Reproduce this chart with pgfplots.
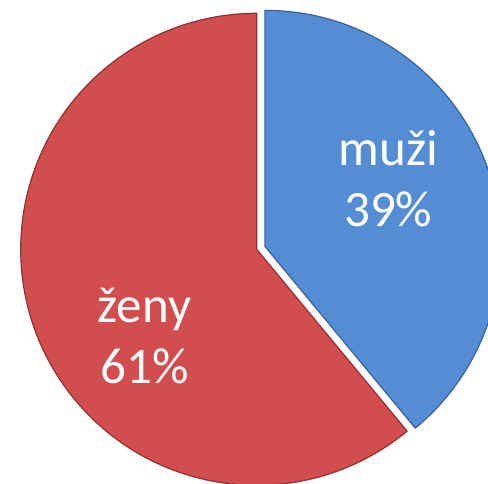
\documentclass[border=0pt]{standalone}
\usepackage{pgfplots}
\pgfplotsset{compat=1.18}
\usepackage{fontspec}
\setmainfont{Carlito}
\definecolor{muzi}{RGB}{85,141,213}
\definecolor{muziedge}{RGB}{58,98,150}
\definecolor{zeny}{RGB}{210,77,77}
\definecolor{zenyedge}{RGB}{145,50,50}

\begin{document}
\begin{tikzpicture}
% podíl v procentech
\def\valM{39}  % muži
\def\valZ{61}  % ženy
\pgfmathsetmacro\angM{360*\valM/(\valM+\valZ)}
\pgfmathsetmacro\endM{90-\angM}
\pgfmathsetmacro\midM{90-\angM/2}
\def\R{236}
\def\cx{256.7}
\def\cy{234.7}
\def\expl{8.7}
\pgfmathsetmacro\bx{\cx+\expl*cos(\midM)}
\pgfmathsetmacro\by{\cy+\expl*sin(\midM)}

\begin{axis}[
  x=1pt, y=1pt,
  xmin=0, xmax=488, ymin=0, ymax=484,
  hide axis,
]
\begin{scope}
  \clip (axis cs:0,0) rectangle (axis cs:488,484);
  % ženy
  \filldraw[fill=zeny, draw=zenyedge, line width=1.2pt, line join=round]
    (axis cs:\cx,\cy) -- ++(\endM:\R pt)
    arc[start angle=\endM, end angle=-270, radius=\R pt] -- cycle;
  % muži (vysunutý díl)
  \filldraw[fill=muzi, draw=muziedge, line width=1.2pt, line join=round]
    (axis cs:\bx,\by) -- ++(90:\R pt)
    arc[start angle=90, end angle=\endM, radius=\R pt] -- cycle;
\end{scope}

\begin{scope}[every node/.style={text=white, font=\fontsize{51}{60}\selectfont, anchor=base}]
  \node at (axis cs:388.3,318) {muži};
  \node at (axis cs:388.3,257.5) {\valM\%};
  \node at (axis cs:144.5,161.3) {ženy};
  \node at (axis cs:145,100) {\valZ\%};
\end{scope}
\end{axis}
\pgfresetboundingbox
\path (current axis.south west) rectangle (current axis.north east);
\end{tikzpicture}
\end{document}
